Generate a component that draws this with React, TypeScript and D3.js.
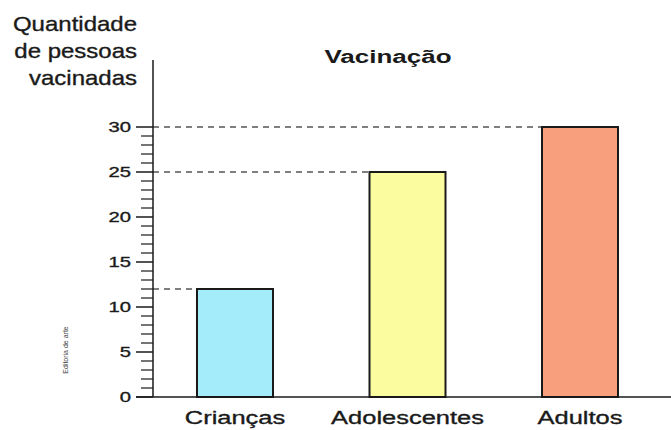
import React from "react";
import { scaleLinear, scalePoint, range } from "d3";

const categories = ["Crianças", "Adolescentes", "Adultos"];
const values = [12, 25, 30];
const barColors = ["#a4ecfa", "#fbfc9f", "#f8a07e"];
const majorTicks = [0, 5, 10, 15, 20, 25, 30];
const yTitleLines = ["Quantidade", "de pessoas", "vacinadas"];
const chartTitle = "Vacinação";
const credit = "Editoria de arte";

const W = 671;
const H = 430;
const FONT = "'Liberation Sans', Arial, Helvetica, sans-serif";

const axisX = 153;
const y = scaleLinear().domain([0, 30]).range([397, 127]);
const x = scalePoint<string>().domain(categories).range([235, 580]);
const barW = 76;

// the scanned picture is stretched sideways, so text gets a horizontal scale
const T = ({ x, y, children, anchor = "start", size = 14, sx = 1.3, weight = "normal", fill = "#1a1a1a" }: any) => (
  <text
    transform={`translate(${x},${y}) scale(${sx},1)`}
    textAnchor={anchor}
    fontSize={size}
    fontWeight={weight}
    fontFamily={FONT}
    fill={fill}
    stroke={weight === "bold" ? "none" : fill}
    strokeWidth={0.35}
  >
    {children}
  </text>
);

export default function App() {
  const minor = range(0, 31).filter((v) => v % 5 !== 0);
  return (
    <svg width={W} height={H} style={{ position: "absolute", left: 0, top: 0, background: "#fff" }}>
      {/* y title */}
      {yTitleLines.map((l, i) => (
        <T key={l} x={137} y={31 + i * 27} anchor="end" size={20} sx={1.2}>{l}</T>
      ))}
      <T x={388} y={63} anchor="middle" size={19} sx={1.37} weight="bold">{chartTitle}</T>

      {/* dashed guides */}
      {values.map((v, i) => (
        <line key={"g" + i} x1={axisX} x2={(x(categories[i]) as number) - barW / 2} y1={y(v)} y2={y(v)}
          stroke="#555" strokeWidth={1.3} strokeDasharray="6,5" />
      ))}

      {/* bars */}
      {values.map((v, i) => (
        <rect key={"b" + i} x={(x(categories[i]) as number) - barW / 2} y={y(v)} width={barW} height={y(0) - y(v)}
          fill={barColors[i]} stroke="#1a1a1a" strokeWidth={2} />
      ))}

      {/* axes */}
      <line x1={axisX} x2={axisX} y1={60} y2={y(0)} stroke="#1a1a1a" strokeWidth={1.5} />
      <line x1={136} x2={W} y1={y(0)} y2={y(0)} stroke="#1a1a1a" strokeWidth={1.5} />
      {majorTicks.map((t) => (
        <g key={"t" + t}>
          <line x1={136} x2={axisX} y1={y(t)} y2={y(t)} stroke="#1a1a1a" strokeWidth={1.5} />
          <T x={131} y={y(t) + 5} anchor="end" size={15} sx={1.35}>{t}</T>
        </g>
      ))}
      {minor.map((t) => (
        <line key={"m" + t} x1={141} x2={axisX} y1={y(t)} y2={y(t)} stroke="#1a1a1a" strokeWidth={1.2} />
      ))}

      {/* category labels */}
      {categories.map((c) => (
        <T key={c} x={x(c)} y={424} anchor="middle" size={19} sx={1.34}>{c}</T>
      ))}

      <text transform="translate(68,350) rotate(-90)" textAnchor="middle" fontSize={7} fontFamily={FONT} fill="#444">
        {credit}
      </text>
    </svg>
  );
}
